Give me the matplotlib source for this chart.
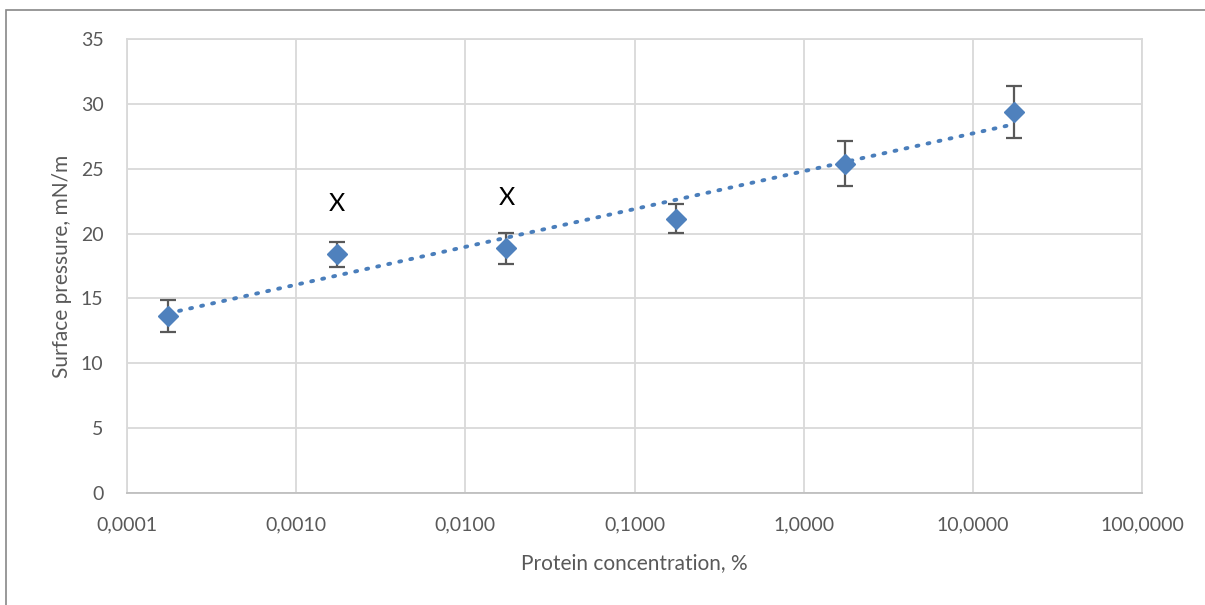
import numpy as np
import matplotlib.pyplot as plt
from matplotlib.ticker import FixedLocator, FixedFormatter, NullLocator
from matplotlib.patches import Rectangle

# данные
conc = [0.000175, 0.00175, 0.0175, 0.175, 1.75, 17.5]
pressure = [13.65, 18.4, 18.85, 21.15, 25.4, 29.4]
err = [1.2, 0.95, 1.2, 1.1, 1.75, 2.0]
marks_x = [0.00175, 0.0175]
marks_y = [22.35, 22.8]
xticks = [0.0001, 0.001, 0.01, 0.1, 1, 10, 100]
xtick_labels = ['0,0001', '0,0010', '0,0100', '0,1000', '1,0000', '10,0000', '100,0000']

plt.rcParams['font.family'] = ['Lato', 'DejaVu Sans']

fig = plt.figure(figsize=(12.05, 6.05), dpi=100)
fig.patches.append(Rectangle((6/1205, -0.1), 1.2, 1.1 - 10/605, transform=fig.transFigure,
                             fill=False, edgecolor='#888888', linewidth=1.2))
ax = fig.add_axes([127/1205, 1 - 493/605, (1142-127)/1205, (493-39)/605])

# логарифмический тренд
c = np.polyfit(np.log10(conc), pressure, 1)
xt = np.logspace(np.log10(conc[0]), np.log10(conc[-1]), 200)
ax.plot(xt, np.polyval(c, np.log10(xt)), color='#4A7EBB', linewidth=2.8,
        linestyle=(0, (0.5, 2.4)), dash_capstyle='round', zorder=2)

ax.errorbar(conc, pressure, yerr=err, fmt='D', color='#4F81BD', markersize=10,
            ecolor='#595959', elinewidth=1.6, capsize=5.5, capthick=1.6, zorder=3)

for x, y in zip(marks_x, marks_y):
    ax.text(x, y, 'X', fontsize=18, ha='center', va='center', color='black')

ax.set_xscale('log')
ax.set_xlim(0.0001, 100)
ax.set_ylim(0, 35)
ax.xaxis.set_major_locator(FixedLocator(xticks))
ax.xaxis.set_major_formatter(FixedFormatter(xtick_labels))
ax.xaxis.set_minor_locator(NullLocator())
ax.set_yticks(range(0, 36, 5))
ax.grid(True, color='#D9D9D9', linewidth=1.3)
ax.set_axisbelow(True)
for s in ax.spines.values():
    s.set_color('#D9D9D9')
    s.set_linewidth(1.3)
ax.spines['bottom'].set_color('#BFBFBF')
ax.tick_params(length=0, labelsize=14, colors='#595959')
ax.tick_params(axis='y', pad=17)
ax.tick_params(axis='x', pad=17)

ax.set_xlabel('Protein concentration, %', fontsize=15, color='#595959', labelpad=14)
ax.set_ylabel('Surface pressure, mN/m', fontsize=15, color='#595959', labelpad=6)

plt.savefig('out.png', dpi=100)
plt.close()
